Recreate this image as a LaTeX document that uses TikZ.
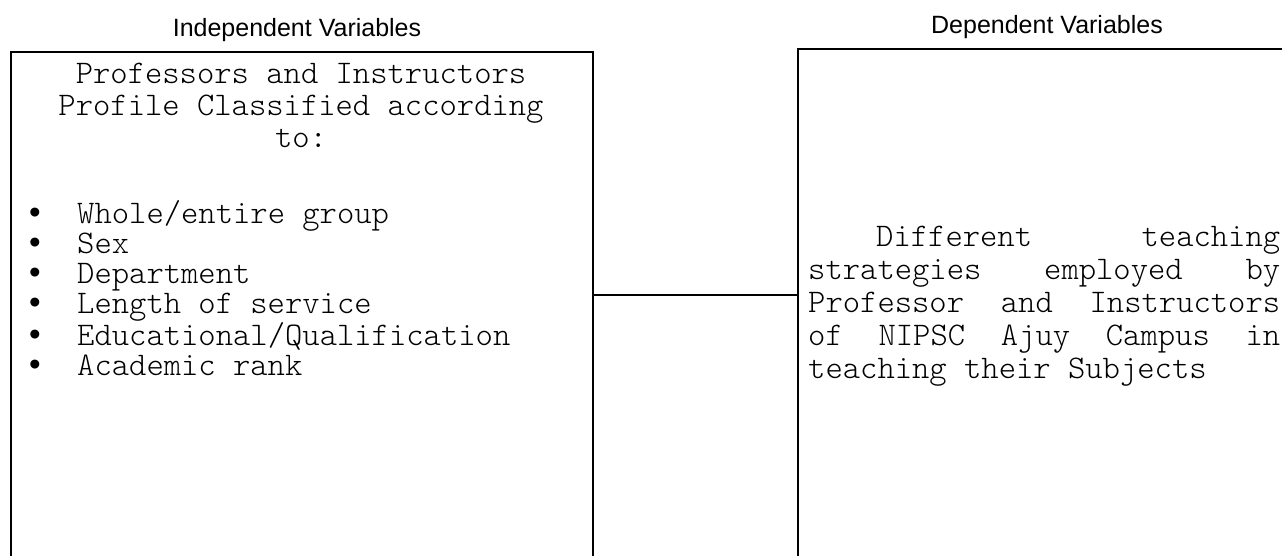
\documentclass[tikz,border=0pt]{standalone}
\usepackage{fontspec}
\setmainfont{Liberation Sans}
\newfontfamily\typefont{lmmonolt10-regular.otf}
\usetikzlibrary{positioning}
\newcommand\itm[1]{\makebox[48pt][l]{\rmfamily\textbullet}#1}
\begin{document}
\begin{tikzpicture}
			[x=1pt,y=-1pt,
			varbox/.style={draw, line width=2pt, minimum height=620pt,
				anchor=north west, inner sep=0pt},
			heading/.style={font=\fontsize{25}{29}\selectfont, inner sep=0pt},
			body/.style={font=\typefont\fontsize{33}{#1}\selectfont, inner sep=0pt},
			link/.style={line width=1.5pt}]
			\useasboundingbox (0,0) rectangle (1282,556);
			\clip (0,0) rectangle (1282,556);
			\node[varbox, minimum width=582pt] (indep) at (10,51) {};
			\node[varbox, minimum width=600pt] (dep) at (797,48) {};
			\node[heading] (indeplabel) at (297,30) {Independent Variables};
			\node[heading] (deplabel) at (1047,27) {Dependent Variables};
			\node[body=32, align=center, anchor=north] (profile) at (301,63)
				{Professors and Instructors\\Profile Classified according\\to:};
			\node[body=30, align=left, anchor=north west] (traits) at (29,200)
				{\itm{Whole/entire group}\\
				\itm{Sex}\\
				\itm{Department}\\
				\itm{Length of service}\\
				\itm{Educational/Qualification}\\
				\itm{Academic rank}};
			\node[body=33, align=left, anchor=north west] (strategies) at (808,226)
				{\hbox to 472pt{\hspace*{68pt}Different\hfill teaching}\\
				\hbox to 472pt{strategies\hfill employed\hfill by}\\
				\hbox to 472pt{Professor\hfill and\hfill Instructors}\\
				\hbox to 472pt{of\hfill NIPSC\hfill Ajuy\hfill Campus\hfill in}\\
				\hbox to 472pt{teaching their Subjects\hfill}};
			\coordinate (joint) at (0,295);
			\draw[link] (indep.east |- joint) -- (dep.west |- joint);
		\end{tikzpicture}
\end{document}
